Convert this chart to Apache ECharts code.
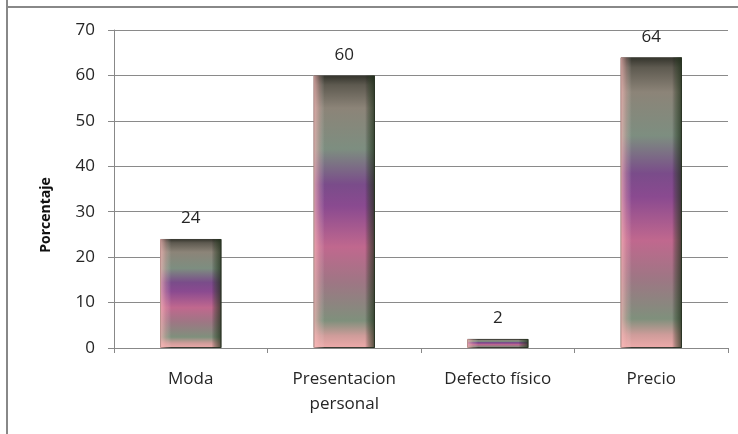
<!DOCTYPE html>
<html>
<head>
<meta charset="utf-8">
<script src="https://cdn.jsdelivr.net/npm/echarts@6/dist/echarts.min.js"></script>
<style>html,body{margin:0;padding:0;background:#fff;}#c{width:738px;height:434px;}</style>
</head>
<body>
<div id="c"></div>
<script>
const categories = ['Moda', 'Presentacion\npersonal', 'Defecto físico', 'Precio'];
const values = [24, 60, 2, 64];
const yTicks = { min: 0, max: 70, interval: 10 };
const yName = 'Porcentaje';

const chart = echarts.init(document.getElementById('c'), null, { renderer: 'canvas' });
const font = '"Open Sans", sans-serif';
const vGrad = new echarts.graphic.LinearGradient(0, 0, 0, 1, [
  { offset: 0, color: '#33332b' },
  { offset: 0.035, color: '#5e5a50' },
  { offset: 0.12, color: '#8c8478' },
  { offset: 0.27, color: '#7d8e80' },
  { offset: 0.4, color: '#7a4c8a' },
  { offset: 0.48, color: '#8a4a90' },
  { offset: 0.63, color: '#c0688e' },
  { offset: 0.76, color: '#9e7684' },
  { offset: 0.9, color: '#7f907c' },
  { offset: 0.955, color: '#cf9c9a' },
  { offset: 1, color: '#eeaaaa' }
]);
const hGrad = new echarts.graphic.LinearGradient(0, 0, 1, 0, [
  { offset: 0, color: 'rgba(255,190,190,0.7)' },
  { offset: 0.1, color: 'rgba(255,190,190,0.25)' },
  { offset: 0.18, color: 'rgba(255,255,255,0)' },
  { offset: 0.84, color: 'rgba(0,0,0,0)' },
  { offset: 0.9, color: 'rgba(30,50,25,0.35)' },
  { offset: 1, color: 'rgba(30,45,25,0.75)' }
]);

chart.setOption({
  animation: false,
  grid: { left: 114, right: 10, top: 30, bottom: 86, containLabel: false },
  xAxis: {
    type: 'category',
    data: categories,
    axisLine: { show: true, lineStyle: { color: '#888', width: 1 } },
    axisTick: { show: true, alignWithLabel: false, length: 5, lineStyle: { color: '#888' } },
    axisLabel: { color: '#262626', fontSize: 17, fontFamily: font, margin: 19, lineHeight: 25, interval: 0 }
  },
  yAxis: {
    type: 'value',
    min: yTicks.min, max: yTicks.max, interval: yTicks.interval,
    name: yName,
    nameLocation: 'middle',
    nameGap: 61,
    nameTextStyle: { color: '#111', fontSize: 14, fontWeight: 'bold', fontFamily: font, padding: [0, 52, 0, 0] },
    axisLine: { show: true, lineStyle: { color: '#888', width: 1 } },
    axisTick: { show: true, inside: false, length: 6, lineStyle: { color: '#888' } },
    axisLabel: { color: '#262626', fontSize: 17, fontFamily: font, margin: 19 },
    splitLine: { show: true, lineStyle: { color: '#8a8a8a', width: 1 } }
  },
  series: [
    {
      type: 'bar',
      data: values,
      barWidth: '40%',
      itemStyle: { color: vGrad, borderColor: '#3c3c34', borderWidth: 1 },
      label: { show: true, position: 'top', distance: 12, color: '#262626', fontSize: 17, fontFamily: font },
      z: 2
    },
    {
      type: 'bar',
      data: values,
      barWidth: '40%',
      barGap: '-100%',
      itemStyle: { color: hGrad },
      silent: true,
      z: 3
    }
  ],
  graphic: [
    { type: 'line', shape: { x1: 7, y1: 0, x2: 7, y2: 434 }, style: { stroke: '#888', lineWidth: 2 } },
    { type: 'line', shape: { x1: 7, y1: 7, x2: 738, y2: 7 }, style: { stroke: '#888', lineWidth: 2 } }
  ]
});
</script>
</body>
</html>
